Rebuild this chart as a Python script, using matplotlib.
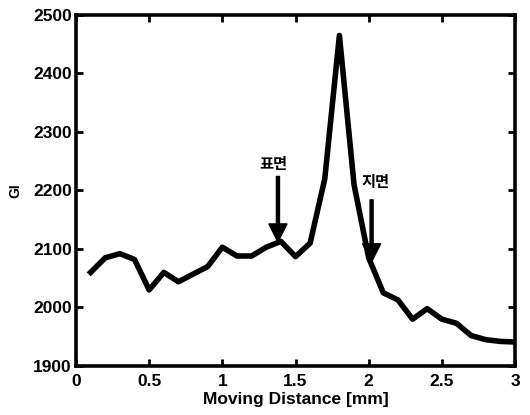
import numpy as np
import matplotlib.pyplot as plt

# moving distance (mm) and GI values
distance = [0.1, 0.2, 0.3, 0.4, 0.5, 0.6, 0.7, 0.8, 0.9, 1.0,
            1.1, 1.2, 1.3, 1.4, 1.5, 1.6, 1.7, 1.8, 1.9, 2.0,
            2.1, 2.2, 2.3, 2.4, 2.5, 2.6, 2.7, 2.8, 2.9, 3.0]
gi = [2060, 2085, 2092, 2082, 2030, 2060, 2044, 2057, 2070, 2103,
      2088, 2088, 2103, 2113, 2087, 2110, 2220, 2465, 2210, 2085,
      2025, 2013, 1980, 1998, 1980, 1973, 1952, 1945, 1942, 1941]

xticks = [0, 0.5, 1, 1.5, 2, 2.5, 3]
xticklabels = ['0', '0.5', '1', '1.5', '2', '2.5', '3']
yticks = [1900, 2000, 2100, 2200, 2300, 2400, 2500]

# annotations: label, arrow x, arrow top, arrow tip, label x, label y
marks = [('표면', 1.38, 2224, 2112, 1.35, 2245),
         ('지면', 2.02, 2184, 2078, 2.05, 2214)]

plt.rcParams['font.family'] = ['Liberation Sans', 'DejaVu Sans']

fig = plt.figure(figsize=(5.3, 4.15), dpi=100)
ax = fig.add_axes([0.1434, 0.1181, 0.8283, 0.8458])

ax.plot(distance, gi, color='black', linewidth=4.0, solid_joinstyle='round')

for label, ax_x, top, tip, tx, ty in marks:
    ax.annotate('', xy=(ax_x, tip), xytext=(ax_x, top),
                arrowprops=dict(facecolor='black', edgecolor='black',
                                width=2.2, headwidth=13, headlength=13, shrink=0))
    ax.text(tx, ty, label, ha='center', va='center', fontsize=11,
            fontweight='bold', family=['Noto Sans CJK KR', 'DejaVu Sans'])

ax.set_xlim(0, 3)
ax.set_ylim(1900, 2500)
ax.set_xticks(xticks)
ax.set_xticklabels(xticklabels)
ax.set_yticks(yticks)

ax.tick_params(direction='in', length=5, width=2, top=True, right=True,
               labelsize=12.5, pad=3)
ax.tick_params(axis='x', pad=6)
for lab in ax.get_xticklabels() + ax.get_yticklabels():
    lab.set_fontweight('bold')
for sp in ax.spines.values():
    sp.set_linewidth(2.6)

ax.set_xlabel('Moving Distance [mm]', fontsize=12.5, fontweight='bold', labelpad=2)
ax.set_ylabel('GI', fontsize=10, fontweight='bold', labelpad=8)

fig.savefig('out.png', dpi=100)
